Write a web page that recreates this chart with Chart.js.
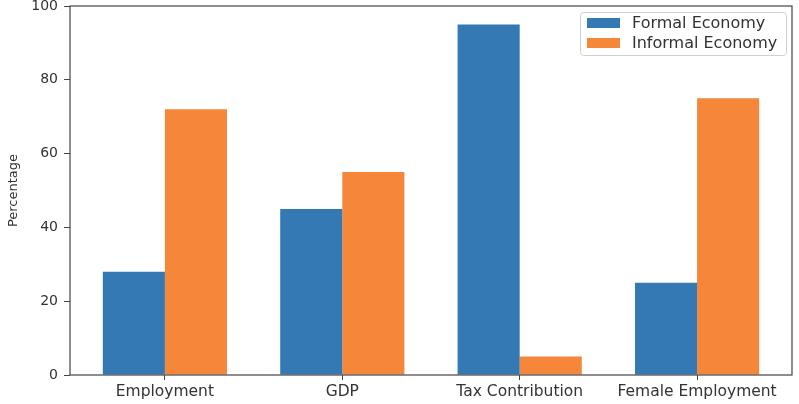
<!DOCTYPE html>
<html>
<head>
<meta charset="utf-8">
<script src="https://cdn.jsdelivr.net/npm/chart.js@4/dist/chart.umd.min.js"></script>
<style>
  html, body { margin: 0; padding: 0; background: #fff; }
  #wrap { width: 799px; height: 404px; }
</style>
</head>
<body>
<div id="wrap"><canvas id="bars" width="799" height="404"></canvas></div>
<script>
// data
const categories = ['Employment', 'GDP', 'Tax Contribution', 'Female Employment'];
const formalValues = [28, 45, 95, 25];
const informalValues = [72, 55, 5, 75];
const yTicks = [0, 20, 40, 60, 80, 100];

const blue = '#3479b4';
const orange = '#f5863a';
const axisColor = '#444';

// matplotlib style frame + legend inside the axes
const framePlugin = {
    id: 'frame',
    afterDraw(chart) {
        const ctx = chart.ctx;
        const a = chart.chartArea;
        ctx.save();
        ctx.strokeStyle = axisColor;
        ctx.lineWidth = 1.2;
        ctx.strokeRect(a.left, a.top, a.right - a.left, a.bottom - a.top);

        // legend box
        const bx = 580, by = 12, bw = 206, bh = 43;
        ctx.fillStyle = 'rgba(255,255,255,0.85)';
        ctx.strokeStyle = '#d0d0d0';
        ctx.lineWidth = 1;
        ctx.beginPath();
        ctx.roundRect(bx + 0.5, by + 0.5, bw, bh, 3);
        ctx.fill();
        ctx.stroke();

        ctx.font = '16px "DejaVu Sans"';
        ctx.textBaseline = 'middle';
        chart.data.datasets.forEach((ds, i) => {
            const y = by + 11 + i * 20;
            ctx.fillStyle = ds.backgroundColor;
            ctx.fillRect(bx + 7, y - 5, 33, 10);
            ctx.fillStyle = '#333';
            ctx.fillText(ds.label, bx + 52, y + 1);
        });
        ctx.restore();
    }
};

new Chart(document.getElementById('bars').getContext('2d'), {
    type: 'bar',
    data: {
        datasets: [
            { label: 'Formal Economy', data: formalValues.map((v, i) => ({ x: i, y: v })), backgroundColor: blue },
            { label: 'Informal Economy', data: informalValues.map((v, i) => ({ x: i, y: v })), backgroundColor: orange }
        ]
    },
    options: {
        responsive: false,
        animation: false,
        devicePixelRatio: 1,
        layout: { padding: { top: 6, right: 7, left: 0, bottom: 0 } },
        datasets: {
            bar: { barPercentage: 1, categoryPercentage: 0.7 }
        },
        plugins: {
            legend: { display: false },
            tooltip: { enabled: false }
        },
        scales: {
            x: {
                type: 'linear',
                offset: false,
                min: -0.535,
                max: 3.535,
                afterBuildTicks(scale) { scale.ticks = categories.map((c, i) => ({ value: i })); },
                grid: { display: true, drawOnChartArea: false, offset: false, tickLength: 5, color: axisColor },
                border: { display: false },
                ticks: {
                    color: '#333',
                    font: { family: 'DejaVu Sans', size: 15.5 },
                    padding: 3,
                    callback: v => categories[v]
                },
                afterFit(scale) { scale.height = 29; }
            },
            y: {
                min: 0,
                max: 100,
                afterBuildTicks(scale) { scale.ticks = yTicks.map(v => ({ value: v })); },
                grid: { display: true, drawOnChartArea: false, tickLength: 6, color: axisColor },
                border: { display: false },
                ticks: { color: '#333', font: { family: 'DejaVu Sans', size: 14 }, padding: 6 },
                title: {
                    display: true,
                    text: 'Percentage',
                    color: '#333',
                    font: { family: 'DejaVu Sans', size: 13 },
                    padding: { top: 6, bottom: 2 }
                },
                afterFit(scale) {
                    scale.width = 70;
                    scale.paddingTop = 0;
                    scale.paddingBottom = 0;
                }
            }
        }
    },
    plugins: [framePlugin]
});
</script>
</body>
</html>
